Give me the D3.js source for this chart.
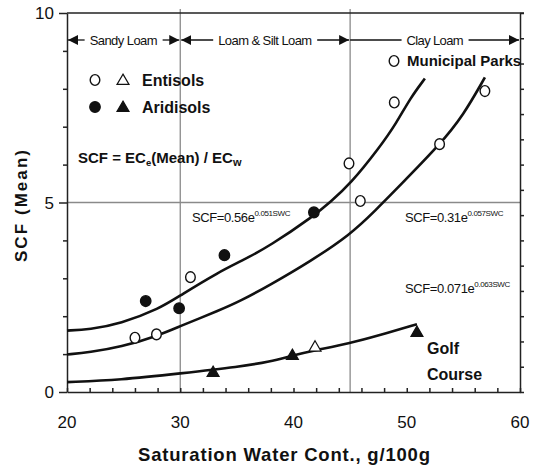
<!DOCTYPE html>
<html>
<head>
<meta charset="utf-8">
<script src="https://cdn.jsdelivr.net/npm/d3@7"></script>
<style>
  body { margin: 0; background: #fff; }
  text { font-family: "Liberation Sans", Arial, sans-serif; fill: #111; }
  .bold { font-weight: bold; }
</style>
</head>
<body>
<div id="chart"></div>
<script>
// SCF vs saturation water content
var entisolCircles = [[26, 1.43], [27.9, 1.52], [30.9, 3.03], [44.9, 6.03], [45.9, 5.04], [48.9, 7.64], [52.9, 6.54], [56.9, 7.94]];
var aridisolCircles = [[26.95, 2.4], [29.9, 2.21], [33.9, 3.61], [41.8, 4.74]];
var aridisolTriangles = [[32.9, 0.5], [39.9, 0.95], [50.9, 1.56]];
var entisolTriangles = [[41.9, 1.17]];

// fitted curves (traced)
var curveUpper = [[20, 1.62], [22, 1.65], [24.7, 1.8], [28.2, 2.2], [30, 2.55], [33.5, 3.18], [35.3, 3.44], [37.9, 3.85], [41.9, 4.67], [43.2, 5.0], [45, 5.48], [47.6, 6.45], [49.1, 7.1], [50.3, 7.75], [51.6, 8.27]];
var curveMiddle = [[20, 0.99], [22, 1.05], [24.7, 1.18], [28.2, 1.5], [30, 1.74], [33.5, 2.16], [35.3, 2.4], [37.9, 2.82], [41.5, 3.45], [45, 4.15], [47.2, 4.78], [49.4, 5.45], [52.9, 6.52], [55, 7.3], [56.9, 8.3]];
var curveGolf = [[20, 0.26], [24.7, 0.32], [30, 0.49], [35.3, 0.67], [37.9, 0.8], [40, 0.97], [41.9, 1.1], [44.9, 1.28], [47.6, 1.5], [50.9, 1.79]];

var xTickLabels = [20, 30, 40, 50, 60];
var yTickLabels = [0, 5, 10];
var xMinorTicks = d3.range(20, 61, 2);
var yMinorTicks = d3.range(0, 11, 1);
var rightTicks = d3.range(0, 15.01, 1);
var gridX = [30, 45];
var gridY = [5];

var textures = [
  {name: 'Sandy Loam', from: 20, to: 30, leftArrow: true},
  {name: 'Loam & Silt Loam', from: 30, to: 45, leftArrow: true},
  {name: 'Clay Loam', from: 45, to: 60, leftArrow: false}
];

var W = 537, H = 468;
var svg = d3.select('#chart').append('svg')
  .attr('width', W)
  .attr('height', H);

var x = d3.scaleLinear().domain([20, 60]).range([67, 520]);
var y = d3.scaleLinear().domain([0, 10]).range([392, 13]);
var yRight = d3.scaleLinear().domain([0, 15]).range([392, 13]);

// grid lines
svg.selectAll('line.gx').data(gridX).enter().append('line')
  .attr('x1', function(d) { return x(d); })
  .attr('x2', function(d) { return x(d); })
  .attr('y1', 9).attr('y2', y(0))
  .attr('stroke', '#8a8a8a').attr('stroke-width', 1.3);
svg.selectAll('line.gy').data(gridY).enter().append('line')
  .attr('x1', x(20)).attr('x2', x(60))
  .attr('y1', function(d) { return y(d); })
  .attr('y2', function(d) { return y(d); })
  .attr('stroke', '#8a8a8a').attr('stroke-width', 1.3);

// axes
var bottom = svg.append('g').attr('transform', 'translate(0,' + y(0) + ')')
  .call(d3.axisBottom(x).tickValues(xMinorTicks).tickSizeInner(-4).tickSizeOuter(0).tickFormat(''));
var left = svg.append('g').attr('transform', 'translate(' + x(20) + ',0)')
  .call(d3.axisLeft(y).tickValues(yMinorTicks).tickSizeInner(4).tickSizeOuter(0).tickFormat(''));
var right = svg.append('g').attr('transform', 'translate(' + x(60) + ',0)')
  .call(d3.axisRight(yRight).tickValues(rightTicks).tickSizeInner(4).tickSizeOuter(0).tickFormat(''));
[bottom, left, right].forEach(function(g) {
  g.selectAll('path, line').attr('stroke', '#222').attr('stroke-width', 1.5);
});
left.selectAll('.tick line').filter(function(d) { return d % 5 === 0; }).attr('x2', -8);

// top border
svg.append('line')
  .attr('x1', x(20)).attr('x2', x(60) + 4)
  .attr('y1', y(10)).attr('y2', y(10))
  .attr('stroke', '#222').attr('stroke-width', 1.5);

// tick labels
svg.selectAll('text.xt').data(xTickLabels).enter().append('text')
  .attr('x', function(d) { return x(d); })
  .attr('y', 428)
  .attr('text-anchor', 'middle')
  .style('font-size', '17px')
  .text(function(d) { return d; });
svg.selectAll('text.yt').data(yTickLabels).enter().append('text')
  .attr('x', 54)
  .attr('y', function(d) { return y(d) + 6; })
  .attr('text-anchor', 'end')
  .style('font-size', '17px')
  .text(function(d) { return d; });

// axis titles
svg.append('text').attr('class', 'bold')
  .attr('x', 138).attr('y', 461)
  .attr('textLength', 292)
  .style('font-size', '18.5px')
  .text('Saturation Water Cont., g/100g');
svg.append('text').attr('class', 'bold')
  .attr('transform', 'translate(27,262) rotate(-90)')
  .attr('textLength', 112)
  .style('font-size', '17px')
  .text('SCF (Mean)');

// texture arrows
var defs = svg.append('defs');
defs.append('marker').attr('id', 'ah')
  .attr('viewBox', '0 0 10 10').attr('refX', 10).attr('refY', 5)
  .attr('markerWidth', 10).attr('markerHeight', 10)
  .attr('markerUnits', 'userSpaceOnUse')
  .attr('orient', 'auto-start-reverse')
  .append('path').attr('d', 'M0,0 L10,5 L0,10 Z').attr('fill', '#111');

var arrowY = 40;
textures.forEach(function(t) {
  var cx = (x(t.from) + x(t.to)) / 2;
  var label = svg.append('text')
    .attr('x', cx).attr('y', arrowY + 4.5)
    .attr('text-anchor', 'middle')
    .style('font-size', '13px')
    .attr('textLength', t.name === 'Loam & Silt Loam' ? 94 : (t.name === 'Clay Loam' ? 57 : 68))
    .text(t.name);
  var bb = label.node().getBBox();
  svg.append('line')
    .attr('x1', bb.x - 5).attr('x2', x(t.from) + (t.leftArrow ? 1 : 0))
    .attr('y1', arrowY).attr('y2', arrowY)
    .attr('stroke', '#111').attr('stroke-width', 1.3)
    .attr('marker-end', t.leftArrow ? 'url(#ah)' : null);
  svg.append('line')
    .attr('x1', bb.x + bb.width + 5).attr('x2', x(t.to) - 1)
    .attr('y1', arrowY).attr('y2', arrowY)
    .attr('stroke', '#111').attr('stroke-width', 1.3)
    .attr('marker-end', 'url(#ah)');
});

// curves
var line = d3.line()
  .x(function(d) { return x(d[0]); })
  .y(function(d) { return y(d[1]); })
  .curve(d3.curveBasis);
[curveUpper, curveMiddle, curveGolf].forEach(function(c) {
  svg.append('path').datum(c)
    .attr('d', line)
    .attr('fill', 'none')
    .attr('stroke', '#111')
    .attr('stroke-width', 2.6);
});

// markers
var tri = d3.symbol().type(d3.symbolTriangle).size(62);
function drawCircles(data, filled) {
  svg.selectAll(null).data(data).enter().append('ellipse')
    .attr('cx', function(d) { return x(d[0]); })
    .attr('cy', function(d) { return y(d[1]); })
    .attr('rx', filled ? 5.2 : 4.8).attr('ry', 5.4)
    .attr('fill', filled ? '#111' : '#fff')
    .attr('stroke', '#111').attr('stroke-width', 1.4);
}
function drawTriangles(data, filled) {
  svg.selectAll(null).data(data).enter().append('path')
    .attr('d', tri)
    .attr('transform', function(d) { return 'translate(' + x(d[0]) + ',' + y(d[1]) + ')'; })
    .attr('fill', filled ? '#111' : '#fff')
    .attr('stroke', '#111').attr('stroke-width', 1.2);
}
drawCircles(entisolCircles, false);
drawCircles(aridisolCircles, true);
drawTriangles(aridisolTriangles, true);
drawTriangles(entisolTriangles, false);

// legend
var lg = [
  {label: 'Entisols', filled: false, y: 80},
  {label: 'Aridisols', filled: true, y: 107}
];
lg.forEach(function(l) {
  svg.append('ellipse').attr('cx', 95).attr('cy', l.y)
    .attr('rx', l.filled ? 5.2 : 4.8).attr('ry', 5.4)
    .attr('fill', l.filled ? '#111' : '#fff')
    .attr('stroke', '#111').attr('stroke-width', 1.4);
  svg.append('path').attr('d', tri)
    .attr('transform', 'translate(123,' + (l.y + 1) + ')')
    .attr('fill', l.filled ? '#111' : '#fff')
    .attr('stroke', '#111').attr('stroke-width', 1.2);
  svg.append('text').attr('class', 'bold')
    .attr('x', 142).attr('y', l.y + 6)
    .style('font-size', '16px')
    .text(l.label);
});

// ratio definition
var def = svg.append('text').attr('class', 'bold')
  .attr('x', 78).attr('y', 163)
  .style('font-size', '15px');
def.append('tspan').text('SCF = EC');
def.append('tspan').attr('dy', 3).style('font-size', '9.5px').text('e');
def.append('tspan').attr('dy', -3).text('(Mean) / EC');
def.append('tspan').attr('dy', 3).style('font-size', '11px').text('w');

// equations
var equations = [
  {base: 'SCF=0.56e', exp: '0.051SWC', x: 192, y: 222},
  {base: 'SCF=0.31e', exp: '0.057SWC', x: 405, y: 222},
  {base: 'SCF=0.071e', exp: '0.063SWC', x: 405, y: 293}
];
equations.forEach(function(e) {
  var t = svg.append('text')
    .attr('x', e.x).attr('y', e.y)
    .style('font-size', '13px')
    .style('letter-spacing', '-0.4px');
  t.append('tspan').text(e.base);
  t.append('tspan').attr('dy', -6).style('font-size', '8px').text(e.exp);
});

// site labels
svg.append('ellipse').attr('cx', 394).attr('cy', 61)
  .attr('rx', 4.8).attr('ry', 5.4)
  .attr('fill', '#fff').attr('stroke', '#111').attr('stroke-width', 1.4);
svg.append('text').attr('class', 'bold')
  .attr('x', 407).attr('y', 66)
  .style('font-size', '15px')
  .text('Municipal Parks');
svg.append('text').attr('class', 'bold')
  .attr('x', 427).attr('y', 354)
  .style('font-size', '16px')
  .text('Golf');
svg.append('text').attr('class', 'bold')
  .attr('x', 427).attr('y', 380)
  .style('font-size', '16px')
  .text('Course');
</script>
</body>
</html>
